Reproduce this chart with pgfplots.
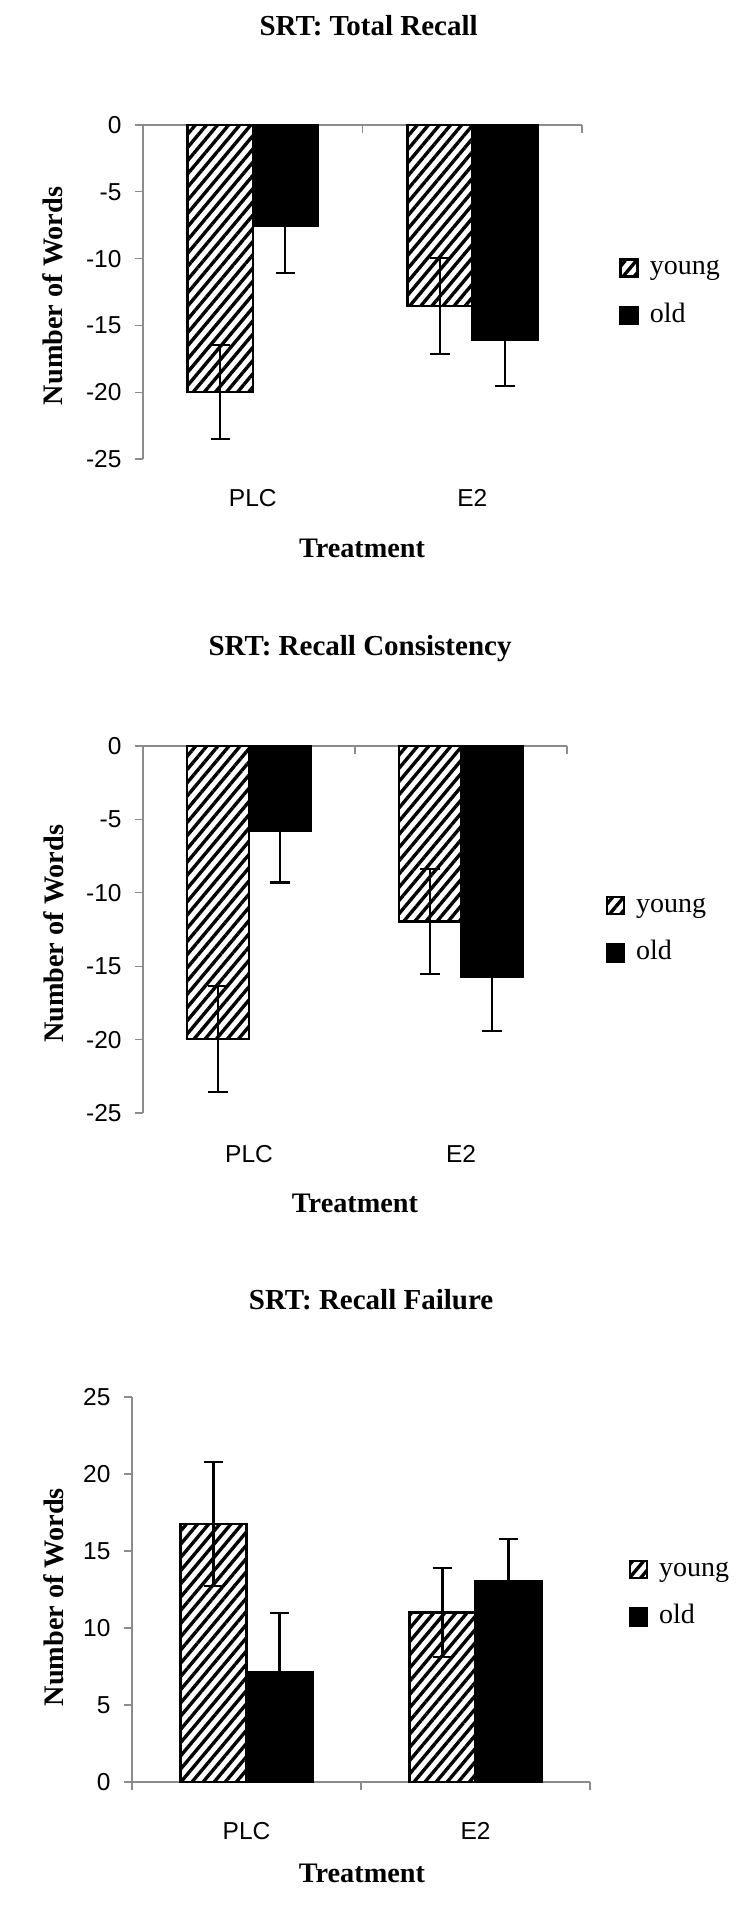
\documentclass[border=0pt]{standalone}
\usepackage{fontspec}
\setmainfont{Liberation Serif}
\newfontfamily\arialfont{Liberation Sans}
\usepackage{pgfplots}
\usepackage{pgfplotstable}
\pgfplotsset{compat=1.18}
\usetikzlibrary{patterns.meta}

\pgfplotstableread{
cat young youngerr old olderr
1 -20.0 3.5 -7.55 3.5
2 -13.55 3.6 -16.05 3.5
}\tableA
\pgfplotstableread{
cat young youngerr old olderr
1 -19.95 3.6 -5.8 3.5
2 -11.95 3.6 -15.7 3.7
}\tableB
\pgfplotstableread{
cat young youngerr old olderr
1 16.75 4.05 7.1 3.9
2 11.0 2.9 13.05 2.75
}\tableC

\pgfplotsset{
  srt/.style={
    scale only axis,
    anchor=south west,
    ybar=0pt,
    xmin=0.5, xmax=2.5,
    axis line style={draw=none},
    xtick={1,2}, xticklabels={PLC,E2},
    minor xtick={0.5,1.5,2.5},
    major x tick style={draw=none},
    minor x tick style={black!45, line width=0.5pt},
    minor tick length=3.2pt,
    major tick length=3.2pt,
    ytick style={black!45, line width=0.5pt},
    ytick pos=left,
    ytick align=outside,
    xticklabel pos=left,
    extra x ticks={0.5}, extra x tick labels={},
    extra x tick style={grid=major},
    extra y ticks={0}, extra y tick labels={},
    extra y tick style={grid=major},
    major grid style={black!45, line width=0.5pt},
    /pgf/number format/assume math mode=true,
    tick label style={font=\arialfont\fontsize{9.8}{11}\selectfont},
    yticklabel style={anchor=east, inner sep=0pt, xshift=-5.2pt},
    xticklabel style={anchor=base, inner sep=0pt},
    title style={font=\bfseries\fontsize{11.6}{13}\selectfont, anchor=base},
    xlabel style={font=\bfseries\fontsize{11.3}{13}\selectfont, anchor=base},
    ylabel style={font=\bfseries\fontsize{11.3}{13}\selectfont, anchor=center},
    xlabel={Treatment},
    ylabel={Number of Words},
    clip=false,
    legend style={draw=none, fill=none, inner sep=0pt, anchor=west,
      font=\fontsize{11.2}{13}\selectfont,
      nodes={inner sep=0pt, text height=7.6pt, text depth=2.4pt},
      row sep=9pt, column sep=4.4pt},
    legend cell align=left,
  },
  errstyle/.style={
    error bars/.cd, y dir=both, y explicit,
    error bar style={line width=0.85pt, black, solid},
    error mark options={rotate=90, line width=0.85pt, mark size=3.9pt, black}},
  youngbar/.style={draw=black, line width=1pt,
    pattern={Lines[angle=50,distance=3.4pt,line width=1.35pt]}, pattern color=black,
    legend image code/.code={\draw[##1] (0pt,-3.4pt) rectangle (6.8pt,3.4pt);},
    errstyle},
  oldbar/.style={draw=black, fill=black, line width=1pt,
    legend image code/.code={\draw[##1] (0pt,-3.4pt) rectangle (6.8pt,3.4pt);},
    errstyle},
}

\begin{document}
\begin{tikzpicture}
\path[use as bounding box] (0,0) rectangle (300pt,762pt);

% Chart 1
\begin{axis}[srt,
  at={(57.2pt,578.4pt)}, width=175.6pt, height=133.6pt, bar width=26pt,
  ymin=-25, ymax=0, ytick={-25,-20,-15,-10,-5,0},
  xtick pos=right, xtick align=inside,
  xticklabel style={yshift=-19.2pt},
  title={SRT: Total Recall},
  title style={at={(axis description cs:0.514,1.2216)}},
  xlabel style={at={(axis description cs:0.499,-0.296)}},
  ylabel style={at={(axis description cs:-0.205,0.488)}},
  legend style={at={(axis description cs:1.084,0.5)}},
]
\addplot[youngbar] table[x=cat, y=young, y error=youngerr] {\tableA};
\addlegendentry{young}
\addplot[oldbar] table[x=cat, y=old, y error=olderr] {\tableA};
\addlegendentry{old}
\end{axis}

% Chart 2
\begin{axis}[srt,
  at={(57.2pt,316.8pt)}, width=169.6pt, height=146.8pt, bar width=24.8pt,
  ymin=-25, ymax=0, ytick={-25,-20,-15,-10,-5,0},
  xtick pos=right, xtick align=inside,
  xticklabel style={yshift=-20pt},
  title={SRT: Recall Consistency},
  title style={at={(axis description cs:0.512,1.207)}},
  xlabel style={at={(axis description cs:0.5,-0.2725)}},
  ylabel style={at={(axis description cs:-0.21,0.488)}},
  legend style={at={(axis description cs:1.09,0.5)}},
]
\addplot[youngbar] table[x=cat, y=young, y error=youngerr] {\tableB};
\addlegendentry{young}
\addplot[oldbar] table[x=cat, y=old, y error=olderr] {\tableB};
\addlegendentry{old}
\end{axis}

% Chart 3
\begin{axis}[srt,
  at={(52.8pt,49.2pt)}, width=183.2pt, height=154pt, bar width=26.4pt,
  ymin=0, ymax=25, ytick={0,5,10,15,20,25},
  xtick pos=left, xtick align=outside,
  xticklabel style={yshift=-19.6pt},
  title={SRT: Recall Failure},
  title style={at={(axis description cs:0.522,1.187)}},
  xlabel style={at={(axis description cs:0.502,-0.26)}},
  ylabel style={at={(axis description cs:-0.17,0.48)}},
  legend style={at={(axis description cs:1.083,0.49)}},
]
\addplot[youngbar] table[x=cat, y=young, y error=youngerr] {\tableC};
\addlegendentry{young}
\addplot[oldbar] table[x=cat, y=old, y error=olderr] {\tableC};
\addlegendentry{old}
\end{axis}
\end{tikzpicture}
\end{document}
